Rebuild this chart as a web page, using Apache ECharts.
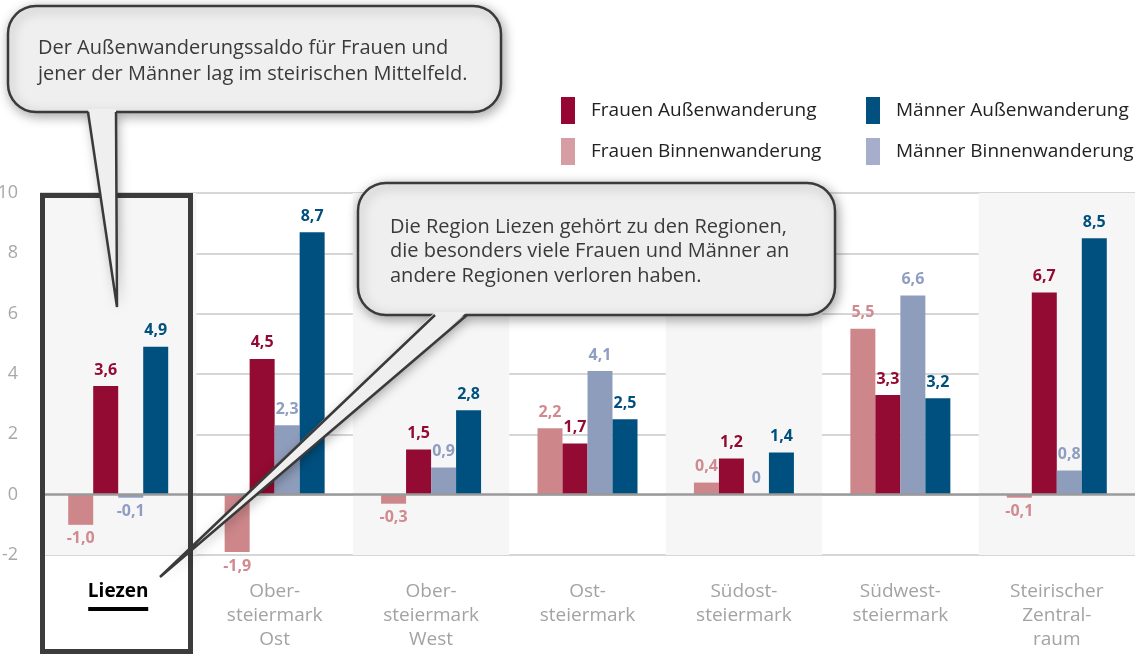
<!DOCTYPE html>
<html><head><meta charset="utf-8">
<script src="https://cdn.jsdelivr.net/npm/echarts@6/dist/echarts.min.js"></script>
<style>html,body{margin:0;padding:0;background:#fff}#c{width:1145px;height:659px}</style>
</head><body><div id="c"></div>
<script>
const categories = ['Liezen', 'Ober-\nsteiermark\nOst', 'Ober-\nsteiermark\nWest', 'Ost-\nsteiermark', 'Südost-\nsteiermark', 'Südwest-\nsteiermark', 'Steirischer\nZentral-\nraum'];
const seriesNames = ['Frauen Binnenwanderung', 'Frauen Außenwanderung', 'Männer Binnenwanderung', 'Männer Außenwanderung'];
const frauenBinnen = [-1.0, -1.9, -0.3, 2.2, 0.4, 5.5, -0.1];
const frauenAussen = [3.6, 4.5, 1.5, 1.7, 1.2, 3.3, 6.7];
const maennerBinnen = [-0.1, 2.3, 0.9, 4.1, 0, 6.6, 0.8];
const maennerAussen = [4.9, 8.7, 2.8, 2.5, 1.4, 3.2, 8.5];
const yTicks = [-2, 0, 2, 4, 6, 8, 10];
const note1 = 'Der Außenwanderungssaldo für Frauen und\njener der Männer lag im steirischen Mittelfeld.';
const note2 = 'Die Region Liezen gehört zu den Regionen,\ndie besonders viele Frauen und Männer an\nandere Regionen verloren haben.';

const FONT = '"Open Sans", sans-serif';
const barColors = ['#cd878b', '#930a32', '#8f9dbc', '#00507f'];
const labelColors = ['#d08a90', '#930a32', '#8f9dc0', '#00507f'];
const legendColors = ['#d69ea3', '#960533', '#a6aecb', '#01507f'];
const allData = [frauenBinnen, frauenAussen, maennerBinnen, maennerAussen];

function fmt(v) { return v === 0 ? '0' : v.toFixed(1).replace('.', ','); }

const series = allData.map((arr, si) => ({
  name: seriesNames[si],
  type: 'bar',
  barWidth: 25,
  barGap: '0%',
  itemStyle: { color: barColors[si] },
  data: arr.map(v => ({
    value: v,
    label: { position: v < 0 ? 'bottom' : 'top', distance: v < 0 ? 6 : 8 }
  })),
  label: {
    show: true,
    formatter: p => fmt(p.value),
    color: labelColors[si],
    fontFamily: FONT,
    fontWeight: 'bold',
    fontSize: 16
  },
  markLine: si === 0 ? {
    silent: true, symbol: ['none', 'none'],
    label: { show: false },
    lineStyle: { color: '#9a9a9a', width: 2.5, type: 'solid' },
    data: [{ yAxis: 0 }]
  } : undefined,
  z: 3
}));

const legendPos = [[561, 138], [561, 97], [866, 138], [866, 97]];
const legends = seriesNames.map((n, i) => ({
  left: legendPos[i][0], top: legendPos[i][1],
  padding: 0, itemWidth: 14, itemHeight: 27,
  icon: 'rect',
  selectedMode: false,
  data: [{ name: n, itemStyle: { color: legendColors[i] } }],
  textStyle: { fontFamily: FONT, fontSize: 19, color: '#222', padding: [0, 0, 0, 11] }
}));

function bubble(rx, ry, rw, rh, tail, text, tx, ty, lh) {
  const [a, b, tip] = tail;
  return {
    type: 'group', z: 100,
    children: [
      { type: 'polygon', z: 100, shape: { points: [a, b, tip] },
        style: { fill: '#efefef', shadowBlur: 12, shadowColor: 'rgba(0,0,0,0.35)', shadowOffsetX: 2, shadowOffsetY: 3 } },
      { type: 'rect', z: 101, shape: { x: rx, y: ry, width: rw, height: rh, r: 28 },
        style: { fill: '#efefef', stroke: '#3a3a3a', lineWidth: 2.5, shadowBlur: 12, shadowColor: 'rgba(0,0,0,0.35)', shadowOffsetX: 2, shadowOffsetY: 3 } },
      { type: 'polygon', z: 102, shape: { points: [[a[0], a[1] - 3], [b[0], b[1] - 3], tip] },
        style: { fill: '#efefef' } },
      { type: 'polyline', z: 103, shape: { points: [a, tip, b] },
        style: { stroke: '#3a3a3a', lineWidth: 2.5, fill: null } },
      { type: 'text', z: 104, x: tx, y: ty,
        style: { text: text, fontFamily: FONT, fontSize: 20, lineHeight: lh, fill: '#3a3a3a', textVerticalAlign: 'top' } }
    ]
  };
}

const chart = echarts.init(document.getElementById('c'), null, { renderer: 'canvas' });
chart.setOption({
  animation: false,
  backgroundColor: '#fff',
  legend: legends,
  grid: { left: 40, right: 10, top: 193, bottom: 104, containLabel: false, outerBoundsMode: 'none' },
  xAxis: {
    type: 'category',
    data: categories,
    axisLine: { show: false },
    axisTick: { show: false },
    splitArea: { show: true, areaStyle: { color: ['#f6f6f6', 'rgba(255,255,255,0)'] } },
    axisLabel: {
      interval: 0, margin: 25, color: '#a3a3a3', fontFamily: FONT, fontSize: 19, lineHeight: 24,
      formatter: (v, i) => i === 0 ? '{b|' + v + '}' : v,
      rich: { b: { fontFamily: FONT, fontWeight: 'bold', fontSize: 19, color: '#000', lineHeight: 24 } }
    }
  },
  yAxis: {
    type: 'value', min: yTicks[0], max: yTicks[yTicks.length - 1], interval: 2,
    axisLine: { show: false }, axisTick: { show: false },
    axisLabel: { color: '#a8a8a8', fontFamily: FONT, fontSize: 18, margin: 22 },
    splitLine: { lineStyle: { color: '#c8c8c8', width: 1.5 } }
  },
  series: series
});

const x0 = chart.convertToPixel({ xAxisIndex: 0 }, categories[0]);
chart.setOption({
  graphic: [
    { type: 'rect', z: 50, shape: { x: 42.5, y: 195.5, width: 148, height: 456 },
      style: { fill: null, stroke: '#3c3c3c', lineWidth: 5 } },
    { type: 'rect', z: 50, shape: { x: x0 - 30, y: 607, width: 60, height: 4 }, style: { fill: '#000' } },
    bubble(8, 6, 493, 106, [[88, 112], [116, 112], [117, 307]], note1, 38, 35, 26),
    bubble(358, 183, 477, 132, [[435, 315], [467, 315], [160, 577]], note2, 390, 215, 24.5)
  ]
});
</script></body></html>
